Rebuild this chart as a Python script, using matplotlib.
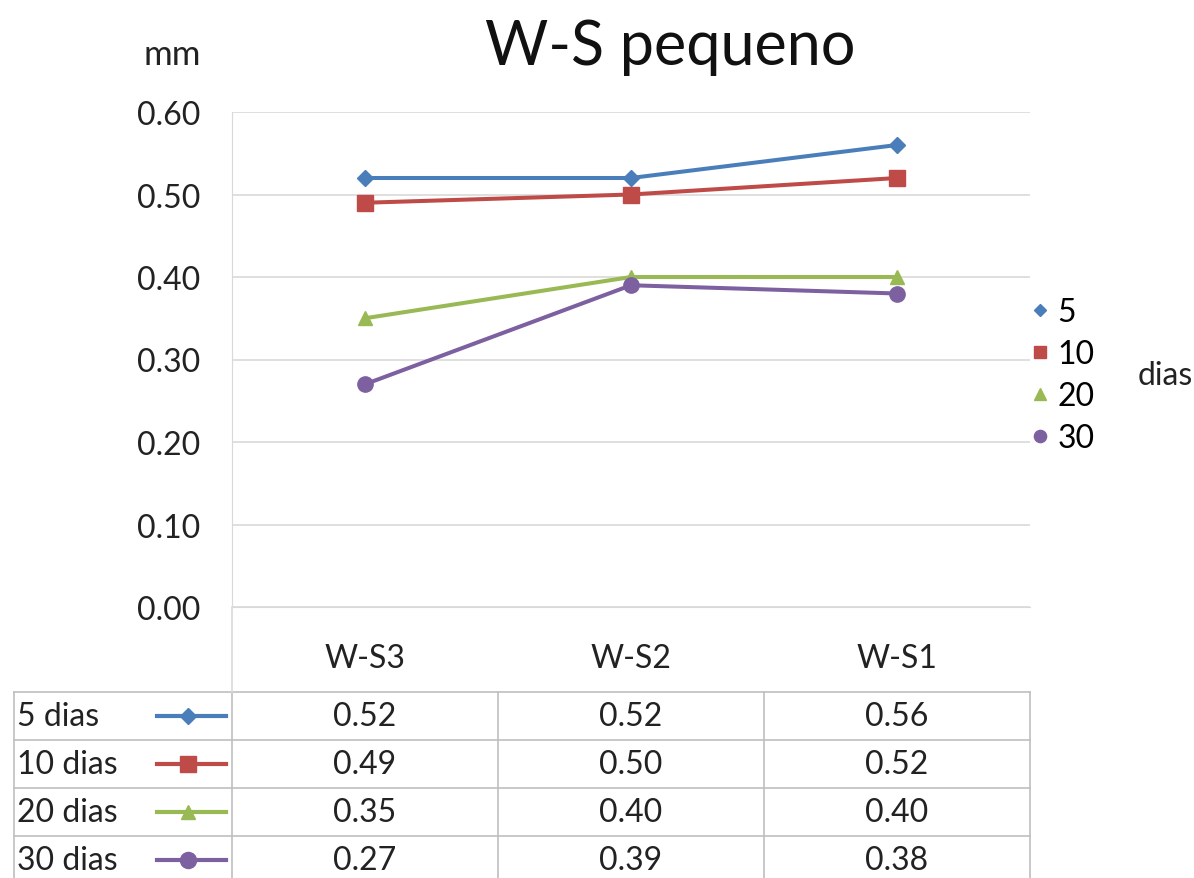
import matplotlib
matplotlib.use("Agg")
import matplotlib.pyplot as plt
from matplotlib.lines import Line2D

plt.rcParams['font.family'] = ['Lato', 'DejaVu Sans']

categories = ['W-S3', 'W-S2', 'W-S1']
series_names = ['5', '10', '20', '30']
table_labels = ['5 dias', '10 dias', '20 dias', '30 dias']
v5 = [0.52, 0.52, 0.56]
v10 = [0.49, 0.50, 0.52]
v20 = [0.35, 0.40, 0.40]
v30 = [0.27, 0.39, 0.38]
yticks = [0.0, 0.1, 0.2, 0.3, 0.4, 0.5, 0.6]

values = [v5, v10, v20, v30]
colors = ['#4A7EBB', '#BE4B48', '#98B954', '#7D60A0']
markers = ['D', 's', '^', 'o']
msizes = [8, 11, 10, 11]
FS = 23

W, H = 1194, 879
fig = plt.figure(figsize=(W / 100, H / 100), dpi=100)

# plot area in pixels
x0, x1, ytop, ybot = 232, 1030, 113, 608
ax = fig.add_axes([x0 / W, 1 - ybot / H, (x1 - x0) / W, (ybot - ytop) / H])

xs = list(range(len(categories)))
for vals, c, m, ms in zip(values, colors, markers, msizes):
    ax.plot(xs, vals, color=c, lw=2.9, marker=m, ms=ms, mec=c, mfc=c, zorder=3)

ax.set_xlim(-0.5, len(categories) - 0.5)
ax.set_ylim(0, 0.6)
ax.set_yticks(yticks)
ax.set_yticklabels(['{:.2f}'.format(t) for t in yticks], fontsize=FS, color='#222222')
ax.set_xticks(xs)
ax.set_xticklabels(categories, fontsize=FS, color='#222222')
ax.tick_params(axis='y', length=0, pad=23)
ax.tick_params(axis='x', length=0, pad=26)
ax.grid(axis='y', color='#D9D9D9', lw=1.2)
ax.set_axisbelow(True)
for s in ['top', 'right']:
    ax.spines[s].set_visible(False)
ax.spines['left'].set_color('#D9D9D9')
ax.spines['bottom'].set_color('#D9D9D9')

# legend, markers only
handles = [Line2D([], [], ls='none', marker=m, color=c, ms=ms * 0.8)
           for c, m, ms in zip(colors, markers, msizes)]
fig.legend(handles, series_names, loc='center left',
           bbox_to_anchor=(1027 / W, 1 - 376 / H), frameon=False,
           fontsize=FS, handletextpad=0.15, labelspacing=0.38,
           handlelength=0.8, borderpad=0, borderaxespad=0)
fig.text(1138 / W, 1 - 376 / H, 'dias', fontsize=FS, ha='left', va='center',
         color='#222222')

fig.text(670 / W, 1 - 48 / H, 'W-S pequeno', fontsize=44, ha='center',
         va='center', color='#111111')
fig.text(172 / W, 1 - 55 / H, 'mm', fontsize=25, ha='center', va='center',
         color='#222222')

# data table (overlay in pixel coordinates)
tb = fig.add_axes([0, 0, 1, 1])
tb.set_xlim(0, W)
tb.set_ylim(H, 0)
tb.axis('off')
tb.patch.set_alpha(0)

t_left, t_top, row_h = 14, 693, 48
col_edges = [t_left, x0] + [x0 + (x1 - x0) * (i + 1) / len(categories) for i in range(len(categories))]
n_rows = len(table_labels)
grid_c = '#BFBFBF'
for r in range(n_rows + 1):
    y = t_top + r * row_h
    tb.plot([col_edges[0], col_edges[-1]], [y, y], color=grid_c, lw=1.2)
for xe in col_edges:
    tb.plot([xe, xe], [t_top, t_top + n_rows * row_h], color=grid_c, lw=1.2)
tb.plot([x0, x0], [ybot, t_top], color='#D9D9D9', lw=1.2)

for r, (lab, vals, c, m, ms) in enumerate(zip(table_labels, values, colors, markers, msizes)):
    yc = t_top + (r + 0.5) * row_h
    tb.text(t_left + 3, yc, lab, fontsize=FS, ha='left', va='center', color='#222222')
    tb.plot([157, 226], [yc, yc], color=c, lw=3)
    tb.plot([188], [yc], marker=m, color=c, ms=ms * 1.05, ls='none')
    for i, v in enumerate(vals):
        xc = (col_edges[i + 1] + col_edges[i + 2]) / 2
        tb.text(xc, yc, '{:.2f}'.format(v), fontsize=FS, ha='center', va='center',
                color='#222222')

fig.savefig('out.png', dpi=100, facecolor='white')
